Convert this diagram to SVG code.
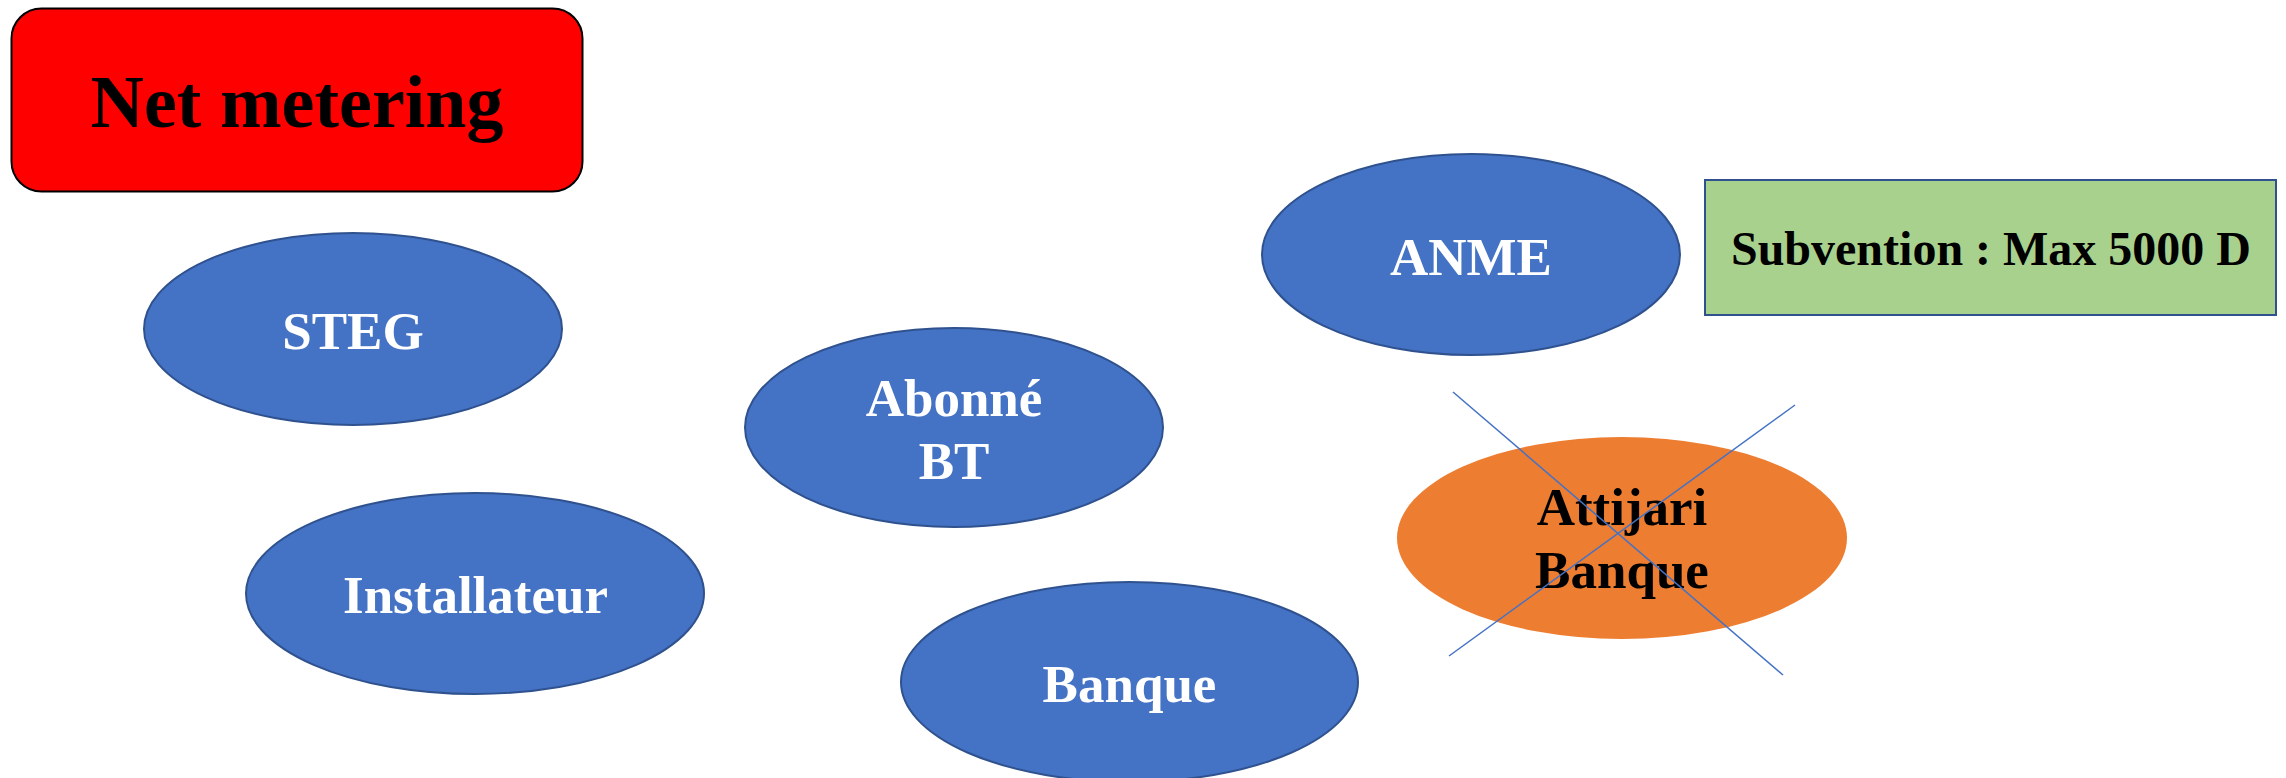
<svg xmlns="http://www.w3.org/2000/svg" width="2286" height="778" viewBox="0 0 2286 778">
<style>
.node{fill:#4472C4;stroke:#2F528F;stroke-width:2}
.lbl{font-family:"Liberation Serif","Times New Roman",serif;font-weight:bold;font-size:53px;text-anchor:middle}
.w{fill:#FFFFFF}
.k{fill:#000000}
.cross{stroke:#4472C4;stroke-width:1.5;fill:none}
</style>
<rect width="2286" height="778" fill="#FFFFFF"/>
<g id="net-metering">
<rect x="11.5" y="8.5" width="571" height="183" rx="30" ry="30" fill="#FF0000" stroke="#000000" stroke-width="2"/>
<text class="k" x="297" y="127" style="font-family:'Liberation Serif','Times New Roman',serif;font-weight:bold;font-size:74px;text-anchor:middle">Net metering</text>
</g>
<g id="steg">
<ellipse class="node" cx="353" cy="329" rx="209" ry="96"/>
<text class="lbl w" x="353" y="349">STEG</text>
</g>
<g id="abonne-bt">
<ellipse class="node" cx="954" cy="427.5" rx="209" ry="99.5"/>
<text class="lbl w" x="954" y="416">Abonné</text>
<text class="lbl w" x="954" y="479">BT</text>
</g>
<g id="installateur">
<ellipse class="node" cx="475" cy="593.5" rx="229" ry="100.5"/>
<text class="lbl w" x="475.5" y="613">Installateur</text>
</g>
<g id="banque">
<ellipse class="node" cx="1129.5" cy="682" rx="228.5" ry="100"/>
<text class="lbl w" x="1129.5" y="702">Banque</text>
</g>
<g id="anme">
<ellipse class="node" cx="1471" cy="254.5" rx="209" ry="100.5"/>
<text class="lbl w" x="1471" y="275">ANME</text>
</g>
<g id="subvention">
<rect x="1705" y="180" width="571" height="135" fill="#A9D18E" stroke="#2F528F" stroke-width="2"/>
<text class="k" x="1991" y="265" style="font-family:'Liberation Serif','Times New Roman',serif;font-weight:bold;font-size:48px;text-anchor:middle">Subvention : Max 5000 D</text>
</g>
<g id="attijari-banque">
<ellipse cx="1622" cy="538" rx="225" ry="101" fill="#ED7D31"/>
<text class="lbl k" x="1622" y="525">Attijari</text>
<text class="lbl k" x="1622" y="588">Banque</text>
</g>
<g id="connectors">
<line class="cross" x1="1453" y1="392" x2="1783" y2="675"/>
<line class="cross" x1="1795" y1="405" x2="1449" y2="656"/>
</g>
</svg>
